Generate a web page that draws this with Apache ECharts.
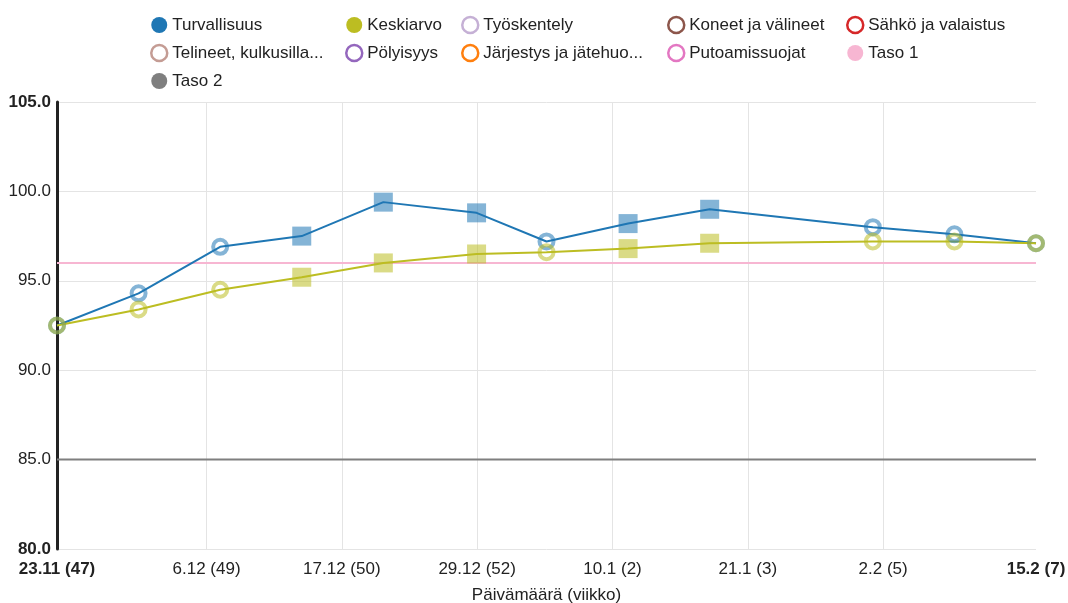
<!DOCTYPE html>
<html>
<head>
<meta charset="utf-8">
<script src="https://cdn.jsdelivr.net/npm/echarts@6/dist/echarts.min.js"></script>
<style>
html, body { margin: 0; padding: 0; background: #fff; }
#chart { width: 1068px; height: 603px; }
</style>
</head>
<body>
<div id="chart"></div>
<script>
// Havaintopäivät ja mitatut indeksit
const paivat = ['2016-11-23', '2016-11-30', '2016-12-07', '2016-12-14', '2016-12-21', '2016-12-29',
                '2017-01-04', '2017-01-11', '2017-01-18', '2017-02-01', '2017-02-08', '2017-02-15'];
const turvallisuus = [92.5, 94.3, 96.9, 97.5, 99.4, 98.8, 97.2, 98.2, 99.0, 98.0, 97.6, 97.1];
const keskiarvo    = [92.5, 93.4, 94.5, 95.2, 96.0, 96.5, 96.6, 96.8, 97.1, 97.2, 97.2, 97.1];
// 1 = kierros merkitään neliöllä, 0 = ympyrällä
const kierros      = [0, 0, 0, 1, 1, 1, 0, 1, 1, 0, 0, 0];

// Tavoitetasot
const taso1 = 96;
const taso2 = 85;

// Aika-akselin jaot (päiviä ensimmäisestä havainnosta) ja niiden tekstit
const jakoPaivat = [0, 12.83, 24.44, 36.05, 47.66, 59.27, 70.88, 84];
const jakoTekstit = ['23.11 (47)', '6.12 (49)', '17.12 (50)', '29.12 (52)', '10.1 (2)', '21.1 (3)', '2.2 (5)', '15.2 (7)'];

const yMin = 80, yMax = 105, yVali = 5;

// Selitteen sarakkeet
const selitteet = [
  ['Turvallisuus', 'Telineet, kulkusilla...', 'Taso 2'],
  ['Keskiarvo', 'Pölyisyys'],
  ['Työskentely', 'Järjestys ja jätehuo...'],
  ['Koneet ja välineet', 'Putoamissuojat'],
  ['Sähkö ja valaistus', 'Taso 1']
];
const tyhjat = ['Työskentely', 'Koneet ja välineet', 'Sähkö ja valaistus',
                'Telineet, kulkusilla...', 'Pölyisyys', 'Järjestys ja jätehuo...', 'Putoamissuojat'];

const varit = {
  'Turvallisuus': '#1f77b4',
  'Keskiarvo': '#bcbd22',
  'Työskentely': '#c5b0d5',
  'Koneet ja välineet': '#8c564b',
  'Sähkö ja valaistus': '#d62728',
  'Telineet, kulkusilla...': '#c49c94',
  'Pölyisyys': '#9467bd',
  'Järjestys ja jätehuo...': '#ff7f0e',
  'Putoamissuojat': '#e377c2',
  'Taso 1': '#f7b6d2',
  'Taso 2': '#7f7f7f'
};

const FONT = '"Liberation Sans", Arial, Helvetica, sans-serif';
const FS = 17;
const DAY = 24 * 3600 * 1000;
const alku = Date.parse(paivat[0] + 'T00:00:00Z');
const xPaivat = paivat.map(p => Math.round((Date.parse(p + 'T00:00:00Z') - alku) / DAY));

function rgba(hex, a) {
  const n = parseInt(hex.slice(1), 16);
  return 'rgba(' + (n >> 16) + ',' + ((n >> 8) & 255) + ',' + (n & 255) + ',' + a + ')';
}

function pisteet(arvot, vari) {
  const vaalea = rgba(vari, 0.55);
  return arvot.map((v, i) => kierros[i]
    ? { value: [xPaivat[i], v], symbol: 'rect', symbolSize: 19,
        itemStyle: { color: vaalea, borderWidth: 0 } }
    : { value: [xPaivat[i], v], symbol: 'circle', symbolSize: 14,
        itemStyle: { color: 'rgba(255,255,255,0)', borderColor: vaalea, borderWidth: 4 } });
}

const series = [
  {
    name: 'Taso 2', type: 'line', symbol: 'none', silent: true,
    data: [[0, taso2], [xPaivat[xPaivat.length - 1], taso2]],
    lineStyle: { color: varit['Taso 2'], width: 2 }, itemStyle: { color: varit['Taso 2'] }
  },
  {
    name: 'Taso 1', type: 'line', symbol: 'none', silent: true,
    data: [[0, taso1], [xPaivat[xPaivat.length - 1], taso1]],
    lineStyle: { color: varit['Taso 1'], width: 2 }, itemStyle: { color: varit['Taso 1'] }
  },
  ...tyhjat.map(n => ({ name: n, type: 'line', data: [], itemStyle: { color: varit[n] } })),
  {
    name: 'Turvallisuus', type: 'line', showSymbol: true,
    data: pisteet(turvallisuus, varit['Turvallisuus']),
    lineStyle: { color: varit['Turvallisuus'], width: 2 },
    itemStyle: { color: varit['Turvallisuus'] }
  },
  {
    name: 'Keskiarvo', type: 'line', showSymbol: true,
    data: pisteet(keskiarvo, varit['Keskiarvo']),
    lineStyle: { color: varit['Keskiarvo'], width: 2 },
    itemStyle: { color: varit['Keskiarvo'] }
  }
];

const sarakeVasen = [150, 345, 461, 667, 846];
const legend = selitteet.map((sarake, k) => ({
  orient: 'vertical',
  left: sarakeVasen[k],
  top: 15,
  padding: 0,
  itemGap: 8,
  itemWidth: 16,
  itemHeight: 16,
  selectedMode: false,
  textStyle: { fontFamily: FONT, fontSize: FS, lineHeight: 20, color: '#222' },
  data: sarake.map(n => tyhjat.includes(n)
    ? { name: n, icon: 'circle', itemStyle: { color: '#fff', borderColor: varit[n], borderWidth: 2.5 } }
    : { name: n, icon: 'circle', itemStyle: { color: varit[n], borderWidth: 0 } })
}));

const chart = echarts.init(document.getElementById('chart'), null, { renderer: 'canvas' });
chart.setOption({
  animation: false,
  backgroundColor: '#fff',
  legend: legend,
  grid: { left: 57, right: 32, top: 102, bottom: 54, containLabel: false, outerBoundsMode: 'none' },
  xAxis: {
    type: 'value',
    min: 0,
    max: xPaivat[xPaivat.length - 1],
    name: 'Päivämäärä (viikko)',
    nameLocation: 'middle',
    nameGap: 38,
    nameTextStyle: { fontFamily: FONT, fontSize: FS, color: '#222' },
    axisLine: { show: false },
    axisTick: { show: false, customValues: jakoPaivat },
    axisLabel: {
      customValues: jakoPaivat,
      margin: 12,
      fontFamily: FONT, fontSize: FS, color: '#222',
      formatter: v => {
        const i = jakoPaivat.indexOf(v);
        const t = i >= 0 ? jakoTekstit[i] : '';
        return (i === 0 || i === jakoPaivat.length - 1) ? '{b|' + t + '}' : t;
      },
      rich: { b: { fontFamily: FONT, fontSize: FS, fontWeight: 'bold', color: '#222' } }
    },
    splitLine: { show: true, showMinLine: false, showMaxLine: false, lineStyle: { color: '#e4e4e4', width: 1 } }
  },
  yAxis: {
    type: 'value',
    min: yMin,
    max: yMax,
    interval: yVali,
    axisLine: { show: true, lineStyle: { color: '#222', width: 3 } },
    axisTick: { show: false },
    axisLabel: {
      margin: 6,
      fontFamily: FONT, fontSize: FS, color: '#222',
      formatter: v => (v === yMin || v === yMax) ? '{b|' + v.toFixed(1) + '}' : v.toFixed(1),
      rich: { b: { fontFamily: FONT, fontSize: FS, fontWeight: 'bold', color: '#222' } }
    },
    splitLine: { show: true, lineStyle: { color: '#e4e4e4', width: 1 } }
  },
  series: series
});
</script>
</body>
</html>
